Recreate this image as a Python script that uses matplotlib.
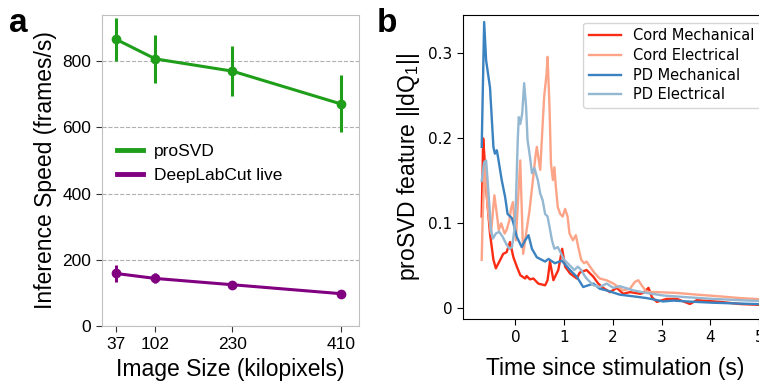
import numpy as np
import matplotlib
matplotlib.use('Agg')
import matplotlib.pyplot as plt

plt.rcParams['font.family'] = ['Liberation Sans', 'DejaVu Sans']
plt.rcParams['mathtext.default'] = 'regular'

# panel a data
img_size = [37, 102, 230, 410]
prosvd_speed = [866, 807, 770, 671]
prosvd_err = [65, 72, 75, 86]
dlc_speed = [159, 144, 125, 98]
dlc_err = [27, 15, 8, 5]

# panel b data
cm_t = [-0.69, -0.66, -0.63, -0.59, -0.52, -0.45, -0.40, -0.31, -0.25, -0.18, -0.11, -0.04, 0.03, 0.10,
        0.20, 0.23, 0.30, 0.37, 0.47, 0.61, 0.66, 0.71, 0.78, 0.88, 0.96, 1.02, 1.12, 1.26, 1.32, 1.46,
        1.60, 1.70, 1.80, 1.94, 2.08, 2.21, 2.35, 2.56, 2.62, 2.73, 2.80, 2.90, 3.10, 3.31, 3.58, 3.72,
        4.19, 4.60, 5.20]
cm_v = [0.108, 0.200, 0.175, 0.135, 0.088, 0.057, 0.047, 0.057, 0.064, 0.066, 0.078, 0.060, 0.049, 0.039,
        0.035, 0.038, 0.034, 0.035, 0.029, 0.027, 0.033, 0.055, 0.033, 0.045, 0.070, 0.049, 0.041, 0.035,
        0.042, 0.045, 0.037, 0.029, 0.024, 0.019, 0.024, 0.017, 0.019, 0.017, 0.018, 0.024, 0.013, 0.0075,
        0.011, 0.011, 0.005, 0.0095, 0.0075, 0.005, 0.0035]

ce_t = [-0.69, -0.67, -0.63, -0.57, -0.50, -0.43, -0.38, -0.34, -0.29, -0.22, -0.18, -0.12, -0.09, -0.05,
        -0.02, 0.01, 0.10, 0.16, 0.22, 0.29, 0.36, 0.41, 0.44, 0.47, 0.51, 0.56, 0.59, 0.64, 0.66, 0.70,
        0.73, 0.77, 0.80, 0.83, 0.87, 0.92, 0.97, 1.02, 1.07, 1.11, 1.18, 1.24, 1.29, 1.35, 1.41, 1.46,
        1.53, 1.63, 1.73, 1.87, 2.01, 2.21, 2.35, 2.45, 2.52, 2.59, 2.69, 2.90, 3.31, 3.72, 4.19, 4.60, 5.20]
ce_v = [0.057, 0.108, 0.170, 0.120, 0.088, 0.133, 0.111, 0.092, 0.100, 0.088, 0.092, 0.104, 0.117, 0.125,
        0.104, 0.080, 0.174, 0.064, 0.088, 0.115, 0.151, 0.178, 0.190, 0.178, 0.163, 0.217, 0.249, 0.276,
        0.296, 0.237, 0.170, 0.151, 0.166, 0.143, 0.119, 0.111, 0.108, 0.117, 0.108, 0.088, 0.080, 0.086,
        0.072, 0.057, 0.053, 0.055, 0.049, 0.041, 0.035, 0.033, 0.029, 0.021, 0.023, 0.031, 0.033, 0.027,
        0.019, 0.019, 0.018, 0.016, 0.014, 0.012, 0.010]

pdm_t = [-0.69, -0.64, -0.60, -0.52, -0.45, -0.42, -0.38, -0.35, -0.28, -0.21, -0.16, -0.07, -0.04, 0.03,
         0.13, 0.20, 0.27, 0.34, 0.44, 0.61, 0.68, 0.81, 0.95, 1.12, 1.26, 1.39, 1.60, 1.73, 1.87, 2.14,
         2.42, 2.69, 3.03, 3.24, 3.51, 4.05, 4.60, 5.20]
pdm_v = [0.190, 0.337, 0.292, 0.260, 0.190, 0.182, 0.186, 0.176, 0.151, 0.131, 0.111, 0.106, 0.100, 0.084,
         0.072, 0.080, 0.086, 0.070, 0.060, 0.055, 0.058, 0.053, 0.056, 0.045, 0.037, 0.025, 0.029, 0.023,
         0.021, 0.016, 0.014, 0.012, 0.008, 0.009, 0.008, 0.0065, 0.0055, 0.0045]

pde_t = [-0.69, -0.64, -0.60, -0.57, -0.53, -0.50, -0.46, -0.40, -0.33, -0.26, -0.19, -0.12, -0.07, -0.02,
         0.01, 0.05, 0.07, 0.10, 0.14, 0.18, 0.22, 0.25, 0.30, 0.34, 0.39, 0.46, 0.51, 0.56, 0.61, 0.66,
         0.70, 0.75, 0.80, 0.87, 0.94, 1.00, 1.07, 1.14, 1.21, 1.28, 1.35, 1.41, 1.46, 1.60, 1.73, 1.87,
         2.01, 2.14, 2.42, 2.69, 3.03, 3.51, 4.05, 4.60, 5.20]
pde_v = [0.150, 0.172, 0.174, 0.151, 0.119, 0.092, 0.082, 0.088, 0.090, 0.084, 0.076, 0.070, 0.072, 0.092,
         0.123, 0.200, 0.225, 0.217, 0.229, 0.265, 0.237, 0.198, 0.178, 0.159, 0.165, 0.151, 0.135, 0.127,
         0.111, 0.108, 0.096, 0.080, 0.070, 0.072, 0.064, 0.057, 0.053, 0.049, 0.045, 0.049, 0.045, 0.039,
         0.035, 0.027, 0.025, 0.029, 0.024, 0.026, 0.021, 0.018, 0.015, 0.013, 0.011, 0.0095, 0.008]

green = '#1f9e1a'
purple = '#800080'

fig = plt.figure(figsize=(7.59, 3.81), dpi=100)

# ---- panel a
ax1 = fig.add_axes([0.134, 0.144, 0.339, 0.817])
ax1.errorbar(img_size, prosvd_speed, yerr=prosvd_err, color=green, lw=2.2, elinewidth=2.2,
             marker='o', ms=6, capsize=0, label='proSVD')
ax1.errorbar(img_size, dlc_speed, yerr=dlc_err, color=purple, lw=2.2, elinewidth=2.2,
             marker='o', ms=6, capsize=0, label='DeepLabCut live')
ax1.set_xlim(13, 440)
ax1.set_ylim(0, 940)
ax1.set_xticks(img_size)
ax1.set_yticks([0, 200, 400, 600, 800])
ax1.grid(axis='y', ls='--', color='#b0b0b0', lw=0.8)
ax1.set_axisbelow(True)
for s in ax1.spines.values():
    s.set_color('#c0c0c0')
ax1.tick_params(labelsize=12.5, length=4, color='#333333')
ax1.set_xlabel('Image Size (kilopixels)', fontsize=16.5, labelpad=5)
ax1.set_ylabel('Inference Speed (frames/s)', fontsize=16.5)
leg1 = ax1.legend(handles=[plt.Line2D([], [], color=green, lw=3.5),
                           plt.Line2D([], [], color=purple, lw=3.5)],
                  labels=['proSVD', 'DeepLabCut live'], frameon=False, fontsize=12.5,
                  loc='upper left', bbox_to_anchor=(0.0, 0.635), handlelength=1.5,
                  handletextpad=0.6)

# ---- panel b
ax2 = fig.add_axes([0.6096, 0.162, 0.401, 0.798])
ax2.plot(cm_t, cm_v, color='#fb2c14', lw=1.7, label='Cord Mechanical')
ax2.plot(ce_t, ce_v, color='#fca487', lw=1.7, label='Cord Electrical')
ax2.plot(pdm_t, pdm_v, color='#3a82c0', lw=1.7, label='PD Mechanical')
ax2.plot(pde_t, pde_v, color='#94b7d2', lw=1.7, label='PD Electrical')
ax2.set_xlim(-1.08, 5.16)
ax2.set_ylim(-0.013, 0.345)
ax2.set_xticks([0, 1, 2, 3, 4, 5])
ax2.set_yticks([0, 0.1, 0.2, 0.3])
ax2.set_yticklabels(['0', '0.1', '0.2', '0.3'])
ax2.tick_params(labelsize=11, length=4)
for lab in ax2.get_xticklabels() + ax2.get_yticklabels():
    lab.set_family('DejaVu Sans')
ax2.set_xlabel('Time since stimulation (s)', fontsize=16.5, labelpad=9)
ax2.set_ylabel('proSVD feature ||dQ$_1$||', fontsize=16.5)
ax2.legend(loc='upper right', prop={'family': 'DejaVu Sans', 'size': 10.5},
           labelspacing=0.32, handlelength=2.2)

fig.text(0.012, 0.915, 'a', fontsize=24, fontweight='bold')
fig.text(0.497, 0.915, 'b', fontsize=24, fontweight='bold')

fig.savefig('out.png', dpi=100)
